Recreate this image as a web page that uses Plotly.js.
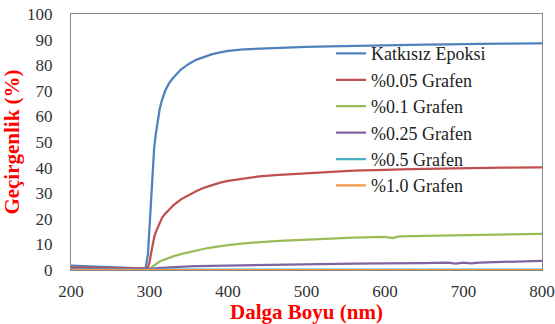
<!DOCTYPE html>
<html><head><meta charset="utf-8">
<script src="https://cdn.plot.ly/plotly-3.0.1.min.js"></script>
<style>html,body{margin:0;padding:0;background:#fff}#chart{width:555px;height:324px}</style>
</head><body><div id="chart"></div>
<script>
const wavelength = [200,220,240,260,280,290,295,298,300,302,304,306,308,310,313,316,320,325,330,340,350,360,370,380,390,400,420,440,460,480,500,530,560,600,605,610,615,620,650,680,690,700,710,720,750,800];
const names = ["Katkısız Epoksi","%0.05 Grafen","%0.1 Grafen","%0.25 Grafen","%0.5 Grafen","%1.0 Grafen"];
const epoksi = [1.7,1.4,1.1,0.9,0.7,0.65,0.8,6,17,29,40,48,53,57,63,66.5,70,73,75,78.3,80.5,82.2,83.4,84.3,85,85.6,86.2,86.5,86.8,87,87.2,87.4,87.6,87.8,87.8,87.9,87.9,87.9,88,88.1,88.1,88.2,88.2,88.3,88.4,88.5];
const g005 = [1.0,0.9,0.8,0.7,0.6,0.55,0.6,1,3,6.5,10,12.8,14.8,16.4,18.8,20.4,22,23.8,25.2,27.6,29.3,30.9,32.2,33.2,34.1,34.8,35.8,36.6,37.1,37.5,37.9,38.4,38.8,39.1,39.1,39.2,39.2,39.3,39.5,39.7,39.7,39.8,39.8,39.9,40,40.1];
const g01 = [0.3,0.3,0.3,0.3,0.3,0.3,0.3,0.3,0.4,0.9,1.4,1.9,2.4,2.8,3.3,3.7,4.2,4.8,5.3,6.2,7.0,7.7,8.3,8.8,9.3,9.7,10.4,10.9,11.3,11.6,11.9,12.3,12.6,12.9,12.8,12.5,12.9,13.1,13.3,13.5,13.6,13.6,13.7,13.8,13.9,14.1];
const g025 = [0.5,0.4,0.4,0.3,0.3,0.3,0.3,0.3,0.4,0.5,0.5,0.6,0.6,0.7,0.8,0.8,0.9,1.0,1.1,1.3,1.4,1.5,1.55,1.6,1.7,1.8,1.9,2.0,2.2,2.2,2.3,2.4,2.5,2.6,2.6,2.6,2.6,2.6,2.7,2.9,2.5,2.9,2.6,2.9,3.2,3.6];
const g05 = [0.15,0.15,0.15,0.15,0.15,0.15,0.15,0.15,0.15,0.15,0.15,0.15,0.15,0.15,0.15,0.15,0.15,0.15,0.15,0.15,0.15,0.15,0.15,0.15,0.15,0.15,0.15,0.15,0.15,0.15,0.15,0.15,0.15,0.15,0.15,0.15,0.15,0.15,0.15,0.15,0.15,0.15,0.15,0.15,0.15,0.15];
const g10 = [0,0,0,0,0,0,0,0,0,0,0,0,0,0,0,0,0,0,0,0,0,0,0,0,0,0,0,0,0,0,0,0,0,0,0,0,0,0,0,0,0,0,0,0,0,0];
const series = [epoksi,g005,g01,g025,g05,g10];
const colors = ["#4F81BD","#C0504D","#9BBB59","#8064A2","#4BACC6","#F79646"];
const xTicks = [200,300,400,500,600,700,800];
const yTicks = [0,10,20,30,40,50,60,70,80,90,100];

const fam = 'serif';
const traces = series.map((s,i)=>({x:wavelength,y:s,name:names[i],type:'scatter',mode:'lines',
  line:{color:colors[i],width:2.25}}));
const tickFont = {family:fam, size:17, color:'#333'};
const titleFont = {family:fam, size:21, color:'#FF0000', weight:'bold'};
const layout = {
  width:555,height:324,margin:{l:71,r:13,t:14,b:54},
  paper_bgcolor:'#fff',plot_bgcolor:'#fff',showlegend:true,
  font:{family:fam},
  xaxis:{range:[200,800],tickvals:xTicks,showgrid:false,zeroline:false,showline:true,mirror:true,
    linecolor:'#868686',linewidth:1,ticks:'',tickfont:tickFont,ticklabelstandoff:6,
    title:{text:'<b>Dalga Boyu (nm)</b>',font:titleFont,standoff:0}},
  yaxis:{range:[0,100],tickvals:yTicks,showgrid:false,zeroline:false,showline:true,mirror:true,
    linecolor:'#868686',linewidth:1,ticks:'',tickfont:tickFont,ticklabelstandoff:14,
    title:{text:'<b>Geçirgenlik (%)</b>',font:titleFont,standoff:6}},
  legend:{x:0.552,y:0.917,xanchor:'left',yanchor:'top',bgcolor:'rgba(0,0,0,0)',
    font:{family:fam,size:18,color:'#222'}}
};
Plotly.newPlot('chart',traces,layout,{staticPlot:true});
</script></body></html>
